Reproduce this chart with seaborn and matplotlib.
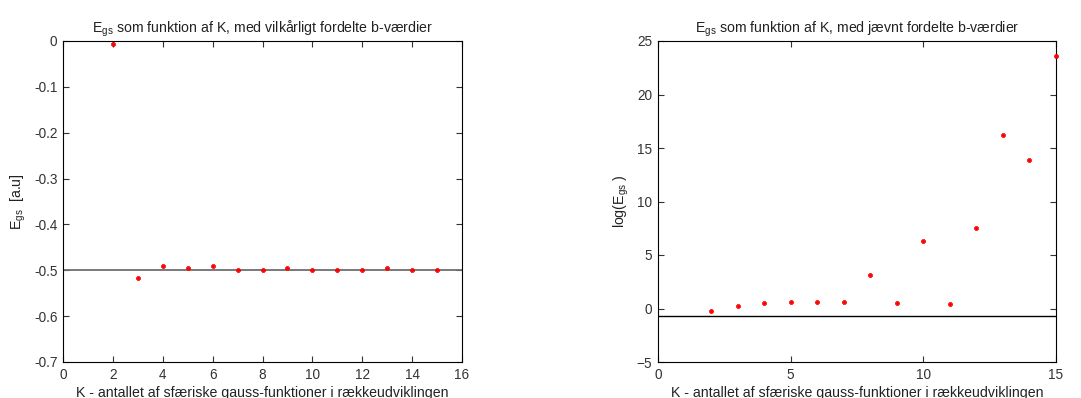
import numpy as np
import pandas as pd
import matplotlib
matplotlib.use("Agg")
import matplotlib.pyplot as plt
import seaborn as sns

# Data
K = [2, 3, 4, 5, 6, 7, 8, 9, 10, 11, 12, 13, 14, 15]
E_random = [-0.006, -0.517, -0.490, -0.496, -0.490, -0.4985, -0.4985, -0.496,
            -0.4985, -0.4985, -0.4985, -0.496, -0.4985, -0.4985]
logE_even = [-0.19, 0.28, 0.53, 0.62, 0.62, 0.62, 3.17, 0.53, 6.28, 0.44,
             7.49, 16.17, 13.87, 23.6]
ref_left = -0.5
ref_right = -0.69

left_xticks = [0, 2, 4, 6, 8, 10, 12, 14, 16]
left_yticks = [-0.7, -0.6, -0.5, -0.4, -0.3, -0.2, -0.1, 0]
left_yticklabels = ["-0.7", "-0.6", "-0.5", "-0.4", "-0.3", "-0.2", "-0.1", "0"]
right_xticks = [0, 5, 10, 15]
right_yticks = [-5, 0, 5, 10, 15, 20, 25]

title_left = r"E$_{\rm gs}$ som funktion af K, med vilkårligt fordelte b-værdier"
title_right = r"E$_{\rm gs}$ som funktion af K, med jævnt fordelte b-værdier"
xlabel = "K - antallet af sfæriske gauss-funktioner i rækkeudviklingen"
ylabel_left = r"E$_{\rm gs}$  [a.u]"
ylabel_right = r"log(E$_{\rm gs}$ )"

sns.set_style("white")
plt.rcParams["font.family"] = ["Liberation Sans", "DejaVu Sans"]
plt.rcParams["mathtext.fontset"] = "custom"
plt.rcParams["mathtext.rm"] = "Liberation Sans"
plt.rcParams["mathtext.it"] = "Liberation Sans:italic"
plt.rcParams["mathtext.bf"] = "Liberation Sans:bold"

fig = plt.figure(figsize=(10.81, 3.98), dpi=100)
ax1 = fig.add_axes([63 / 1081, 36 / 398, 399 / 1081, 321 / 398])
ax2 = fig.add_axes([658 / 1081, 36 / 398, 398 / 1081, 321 / 398])

df1 = pd.DataFrame({"K": K, "E": E_random})
df2 = pd.DataFrame({"K": K, "E": logE_even})

fs = 10.2
tfs = 9.8
mk = dict(marker="P", color="red", s=10, edgecolor="red", linewidth=0.5,
          zorder=3, legend=False)
# Left
ax1.axhline(ref_left, color="#6e6e6e", lw=1.3, zorder=1)
sns.scatterplot(data=df1, x="K", y="E", ax=ax1, **mk)
ax1.set_xlim(0, 16)
ax1.set_ylim(-0.7, 0)
ax1.set_xticks(left_xticks)
ax1.set_yticks(left_yticks)
ax1.set_yticklabels(left_yticklabels)
ax1.set_title(title_left, fontsize=fs, pad=6, color="#222222")
ax1.set_xlabel(xlabel, fontsize=fs, labelpad=3, color="#222222")
ax1.set_ylabel(ylabel_left, fontsize=fs, labelpad=4, color="#222222")

# Right
ax2.axhline(ref_right, color="black", lw=1.0, zorder=1)
sns.scatterplot(data=df2, x="K", y="E", ax=ax2, clip_on=False, **mk)
ax2.set_xlim(0, 15)
ax2.set_ylim(-5, 25)
ax2.set_xticks(right_xticks)
ax2.set_yticks(right_yticks)
ax2.set_title(title_right, fontsize=fs, pad=6, color="#222222")
ax2.set_xlabel(xlabel, fontsize=fs, labelpad=3, color="#222222")
ax2.set_ylabel(ylabel_right, fontsize=fs, labelpad=4, color="#222222")

for ax in (ax1, ax2):
    for s in ax.spines.values():
        s.set_color("black")
        s.set_linewidth(0.8)
        s.set_visible(True)
    ax.tick_params(direction="in", length=4, width=0.8, top=True, right=True,
                   bottom=True, left=True, labelsize=tfs, colors="#333333",
                   pad=4)

fig.savefig("out.png", dpi=100)
